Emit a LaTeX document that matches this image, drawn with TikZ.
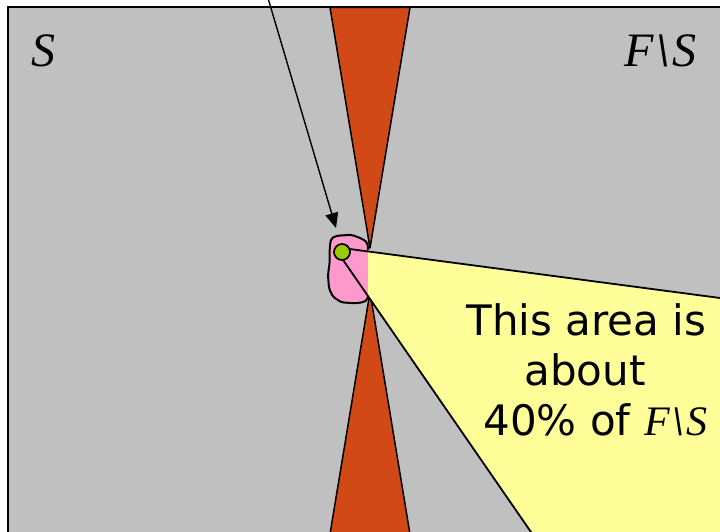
\documentclass[tikz,border=0pt]{standalone}
\usepackage{fontspec}
\setmainfont{DejaVu Sans}
\newfontfamily\tnr{Liberation Serif}
\usetikzlibrary{arrows.meta}
\definecolor{bggray}{RGB}{192,192,192}
\definecolor{wedgered}{RGB}{209,73,23}
\definecolor{areayellow}{RGB}{255,255,153}
\definecolor{blobpink}{RGB}{255,153,204}
\definecolor{dotgreen}{RGB}{153,204,0}
\newcommand{\FSlabel}{{\tnr\itshape F\kern.06em{\bfseries\textbackslash}\kern.06em S}}
\begin{document}
\begin{tikzpicture}[x=1bp,y=-1bp,
  framefill/.style={fill=bggray},
  frameline/.style={draw=black,line width=2bp},
  redwedge/.style={fill=wedgered,draw=black,line width=1.5bp,line join=round},
  areafill/.style={fill=areayellow},
  edgeline/.style={draw=black,line width=1.8bp,line cap=round},
  blobfill/.style={fill=blobpink,rounded corners=2bp},
  blobline/.style={draw=black,line width=2bp,rounded corners=2bp,line join=round},
  dotstyle/.style={circle,fill=dotgreen,draw=black,line width=1.7bp,minimum size=16bp,inner sep=0pt},
  pointer/.style={draw=black,line width=1.4bp,-{Triangle[length=15bp,width=13bp]}},
  bigserif/.style={inner sep=0pt,font=\tnr\itshape\fontsize{48bp}{56bp}\selectfont},
  areatext/.style={inner sep=0pt,anchor=base,font=\fontsize{42bp}{50bp}\selectfont}]
\useasboundingbox (0,0) rectangle (720,532);
\clip (0,0) rectangle (720,532);
% background
\fill[framefill] (7.5,7.5) rectangle (760,560);
% red bow-tie
\draw[redwedge] (330,7.5) -- (410,7.5) -- (370,248) -- cycle;
\draw[redwedge] (328.2,545) -- (411.8,545) -- (370,292) -- cycle;
% pink blob fill
\path[blobfill] (369,250) -- (367.5,242.5) -- (361.5,238.5) -- (351.5,234.8) -- (336.5,235.8) -- (331,238.5) -- (329.7,248) -- (329.7,262) -- (328,275) -- (329,288.5) -- (333,296.8) -- (341.3,302.3) -- (354.7,303.3) -- (363,302.3) -- (367.3,300) -- (369,296) -- cycle;
% yellow area
\fill[areafill] (368,251.44) -- (760,303.29) -- (760,560) -- (550.3,560) -- (368,296.08) -- cycle;
% blob outline (open towards the yellow area)
\draw[blobline] (368,250) -- (367.5,242.5) -- (361.5,238.5) -- (351.5,234.8) -- (336.5,235.8) -- (331,238.5) -- (329.7,248) -- (329.7,262) -- (328,275) -- (329,288.5) -- (333,296.8) -- (341.3,302.3) -- (354.7,303.3) -- (363,302.3) -- (367.3,300) -- (368,296);
% edges of the area
\coordinate (upstart) at (342,248);
\coordinate (upend) at (760,303.29);
\coordinate (lowstart) at (341,257);
\coordinate (lowend) at (550.3,560);
\draw[edgeline] (upstart) -- (upend);
\draw[edgeline] (lowstart) -- (lowend);
% green dot
\node[dotstyle] (dot) at (342,252) {};
% frame border
\draw[frameline] (7.5,560) -- (7.5,7.5) -- (760,7.5);
% arrow
\coordinate (arrowfrom) at (266.2,-8);
\coordinate (arrowto) at (336,228);
\draw[pointer] (arrowfrom) -- (arrowto);
% labels
\node[bigserif,anchor=base west] (Slabel) at (31,66.7) {S};
\node[bigserif,anchor=base east] (FSlabel) at (697,66.7) {\FSlabel};
\node[areatext] (line1) at (586.5,335) {This area is};
\node[areatext] (line2) at (585,385) {about};
\node[areatext] (line3) at (595.5,435) {40\% of \FSlabel};
\end{tikzpicture}
\end{document}
